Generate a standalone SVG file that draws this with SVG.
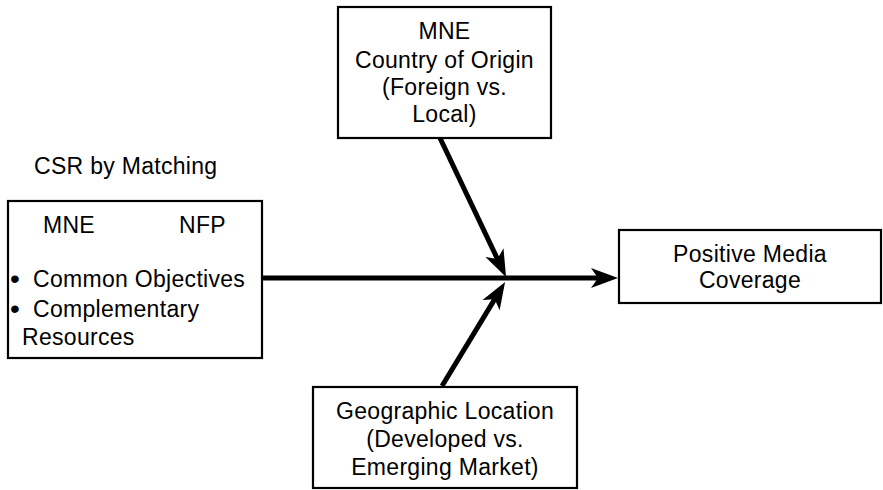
<svg xmlns="http://www.w3.org/2000/svg" width="883" height="490" viewBox="0 0 883 490">
<style>
.box{fill:#fff;stroke:#000;stroke-width:2.2}
.t{font-family:"Liberation Sans",Arial,Helvetica,sans-serif;font-size:23px;letter-spacing:0.3px;fill:#000}
.b{font-size:28px}
.c{text-anchor:middle}
.conn{stroke:#000;stroke-width:5;fill:none}
</style>
<defs>
<marker id="ah" viewBox="-28 -11 29 22" refX="-15" refY="0" markerWidth="29" markerHeight="22" markerUnits="userSpaceOnUse" orient="auto">
<path d="M0,0 L-27,-10 L-20,0 L-27,10 Z" fill="#000"/>
</marker>
</defs>
<rect width="883" height="490" fill="#fff"/>
<g id="connectors">
<line class="conn" x1="262" y1="278" x2="603" y2="278" marker-end="url(#ah)"/>
<line class="conn" x1="440" y1="138" x2="499.6" y2="263.5" marker-end="url(#ah)"/>
<line class="conn" x1="442" y1="386" x2="497.3" y2="294.9" marker-end="url(#ah)"/>
</g>
<g id="csr-label">
<text class="t" x="34" y="174">CSR by Matching</text>
</g>
<g id="csr-box">
<rect class="box" x="8" y="201" width="254" height="157"/>
<text class="t" x="43" y="233">MNE</text>
<text class="t" x="179" y="233">NFP</text>
<text class="t" x="10" y="287"><tspan class="b" dy="1">•</tspan><tspan x="33" dy="-1">Common Objectives</tspan></text>
<text class="t" x="10" y="317"><tspan class="b" dy="1">•</tspan><tspan x="33" dy="-1">Complementary</tspan></text>
<text class="t" x="22" y="345">Resources</text>
</g>
<g id="origin-box">
<rect class="box" x="338" y="7" width="213" height="131"/>
<text class="t c" x="444.5" y="39">MNE</text>
<text class="t c" x="444.5" y="68">Country of Origin</text>
<text class="t c" x="444.5" y="95">(Foreign vs.</text>
<text class="t c" x="444.5" y="122">Local)</text>
</g>
<g id="media-box">
<rect class="box" x="619" y="230" width="262" height="73"/>
<text class="t c" x="750" y="262">Positive Media</text>
<text class="t c" x="750" y="288">Coverage</text>
</g>
<g id="location-box">
<rect class="box" x="313" y="387" width="264" height="101"/>
<text class="t c" x="445" y="419">Geographic Location</text>
<text class="t c" x="445" y="447">(Developed vs.</text>
<text class="t c" x="445" y="475">Emerging Market)</text>
</g>
</svg>
